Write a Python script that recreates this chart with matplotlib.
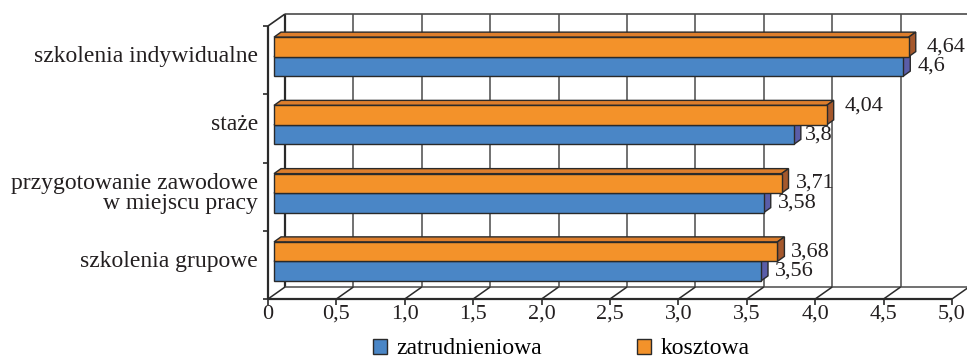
import matplotlib
matplotlib.use("Agg")
import matplotlib.pyplot as plt
from matplotlib.patches import Polygon, Patch
import numpy as np

# --- data -------------------------------------------------------------
categories = ["szkolenia grupowe",
              "przygotowanie zawodowe\nw miejscu pracy",
              "staże",
              "szkolenia indywidualne"]
zatrudnieniowa = [3.56, 3.58, 3.80, 4.60]
kosztowa = [3.68, 3.71, 4.04, 4.64]
value_labels_z = ["3,56", "3,58", "3,8", "4,6"]
value_labels_k = ["3,68", "3,71", "4,04", "4,64"]
series_names = ["zatrudnieniowa", "kosztowa"]
xticks = [0, 0.5, 1.0, 1.5, 2.0, 2.5, 3.0, 3.5, 4.0, 4.5, 5.0]
xtick_labels = ["0", "0,5", "1,0", "1,5", "2,0", "2,5", "3,0", "3,5", "4,0", "4,5", "5,0"]

# --- style ------------------------------------------------------------
FONT = "Liberation Serif"
TEXT = "#231F20"
BLUE, BLUE_SIDE = "#4A86C6", "#5A5DA8"
ORANGE, ORANGE_TOP, ORANGE_SIDE = "#F3922A", "#DD7E2C", "#A5582C"
EDGE = "#2A2A2A"
GRID = "#4A4A4A"

W, H = 967, 358
fig = plt.figure(figsize=(W / 100, H / 100), dpi=100)
ax = fig.add_axes([268 / W, (H - 299) / H, 684 / W, 273 / H])
ax.set_xlim(0, 5)
ax.set_ylim(-0.5, 3.5)
ax.axis("off")

sx = 5 / 684   # data units per pixel, x
sy = 4 / 273   # data units per pixel, y


def off(px, py):
    return px * sx, py * sy


bx, by = off(17, 12)       # back wall depth
fx, fy = off(6, 3.5)       # bar front plane
ddx, ddy = off(7, 5)       # bar depth
bar_h = 19.5 * sy
ymin, ymax = -0.5, 3.5

line_kw = dict(clip_on=False, solid_capstyle="butt")

# back wall grid
for x in xticks[1:]:
    ax.plot([x + bx] * 2, [ymin + by, ymax + by], color=GRID, lw=1.1, zorder=1, **line_kw)
ax.plot([bx, bx], [ymin + by, ymax + by], color=EDGE, lw=1.6, zorder=1, **line_kw)
ax.plot([bx, 5 + bx], [ymax + by] * 2, color=GRID, lw=1.2, zorder=1, **line_kw)

# left wall
ax.plot([0, 0], [ymin, ymax], color=EDGE, lw=1.6, zorder=1, **line_kw)
ax.plot([0, bx], [ymax, ymax + by], color=EDGE, lw=1.2, zorder=1, **line_kw)
for b in np.arange(ymin, ymax + 0.01, 1.0):
    ax.plot([-5 * sx, 0], [b, b], color=EDGE, lw=1.2, zorder=1, **line_kw)

# floor
ax.plot([0, 5], [ymin, ymin], color=EDGE, lw=1.6, zorder=1, **line_kw)
ax.plot([bx, 5 + bx], [ymin + by] * 2, color=GRID, lw=1.1, zorder=1, **line_kw)
for x in xticks:
    ax.plot([x, x + bx], [ymin, ymin + by], color=EDGE, lw=1.1, zorder=1, **line_kw)
    ax.plot([x, x], [ymin, ymin - 6 * sy], color=EDGE, lw=1.2, zorder=1, **line_kw)

# tick labels
for x, lab in zip(xticks, xtick_labels):
    ax.text(x, ymin - 6 * sy, lab, ha="center", va="top", fontsize=16,
            family=FONT, color=TEXT)

# bars
ypos = np.arange(len(categories))
centers = ypos + fy
edge_kw = dict(edgecolor=EDGE, linewidth=1.0, clip_on=False)

ax.barh(centers - bar_h / 2, zatrudnieniowa, height=bar_h, left=fx,
        color=BLUE, zorder=3, **edge_kw)
ax.barh(centers + bar_h / 2, kosztowa, height=bar_h, left=fx,
        color=ORANGE, zorder=5, **edge_kw)


def side_face(v, y0, y1, color, z):
    x = fx + v
    pts = [(x, y0), (x, y1), (x + ddx, y1 + ddy), (x + ddx, y0 + ddy)]
    ax.add_patch(Polygon(pts, closed=True, facecolor=color, zorder=z, **edge_kw))


def top_face(v, y, color, z):
    pts = [(fx, y), (fx + v, y), (fx + v + ddx, y + ddy), (fx + ddx, y + ddy)]
    ax.add_patch(Polygon(pts, closed=True, facecolor=color, zorder=z, **edge_kw))


for c, vz, vk in zip(centers, zatrudnieniowa, kosztowa):
    top_face(vz, c, BLUE, 2)
    side_face(vz, c - bar_h, c, BLUE_SIDE, 2)
    top_face(vk, c + bar_h, ORANGE_TOP, 4)
    side_face(vk, c, c + bar_h, ORANGE_SIDE, 4)

# value labels (small nudges in pixels for manually placed labels)
nudge_k = {2: (4, 9), 3: (4, 0)}
nudge_z = {2: (-3, 0)}
gap = 7
for i, (c, vz, vk) in enumerate(zip(centers, zatrudnieniowa, kosztowa)):
    nx, ny = nudge_k.get(i, (0, 0))
    ax.text(fx + vk + ddx + (gap + nx) * sx, c + bar_h / 2 + ny * sy, value_labels_k[i],
            ha="left", va="center", fontsize=16, family=FONT, color=TEXT, zorder=6)
    nx, ny = nudge_z.get(i, (0, 0))
    ax.text(fx + vz + ddx + (gap + nx) * sx, c - bar_h / 2 + ny * sy, value_labels_z[i],
            ha="left", va="center", fontsize=16, family=FONT, color=TEXT, zorder=6)

# category labels
for c, lab in zip(centers, categories):
    ax.text(-10 * sx, c, lab, ha="right", va="center", multialignment="right",
            fontsize=17, family=FONT, color=TEXT, linespacing=0.95)

# legend
handles = [Patch(facecolor=BLUE, edgecolor=EDGE, linewidth=1.0),
           Patch(facecolor=ORANGE, edgecolor=EDGE, linewidth=1.0)]
fig.legend(handles, series_names, loc="center", bbox_to_anchor=(561 / W, 1 - 349 / H),
           ncol=2, frameon=False, handlelength=0.6, handleheight=0.6,
           handletextpad=0.4, columnspacing=4.0, borderaxespad=0, borderpad=0,
           prop=dict(family=FONT, size=17))

fig.savefig("out.png", dpi=100)
